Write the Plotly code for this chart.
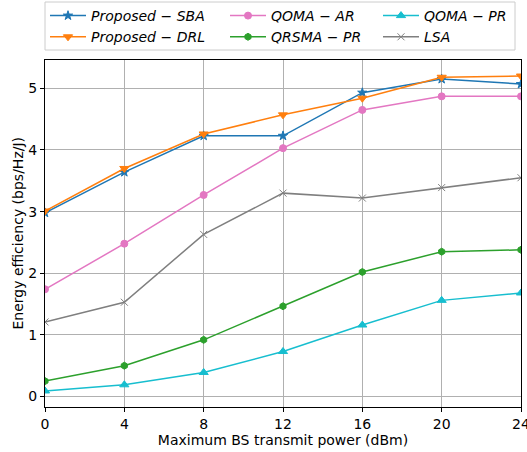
import plotly.graph_objects as go

power = [0, 4, 8, 12, 16, 20, 24]
x_ticks = [0, 4, 8, 12, 16, 20, 24]
y_ticks = [0, 1, 2, 3, 4, 5]

names = ["Proposed − SBA", "Proposed − DRL", "QOMA − AR", "QRSMA − PR", "QOMA − PR", "LSA"]
sba = [2.98, 3.64, 4.23, 4.23, 4.93, 5.15, 5.07]
drl = [3.01, 3.70, 4.26, 4.57, 4.84, 5.18, 5.20]
qoma_ar = [1.74, 2.48, 3.27, 4.03, 4.65, 4.87, 4.87]
qrsma_pr = [0.25, 0.50, 0.92, 1.465, 2.02, 2.35, 2.38]
qoma_pr = [0.09, 0.19, 0.39, 0.73, 1.16, 1.56, 1.68]
lsa = [1.21, 1.53, 2.63, 3.30, 3.22, 3.39, 3.55]

series = [sba, drl, qoma_ar, qrsma_pr, qoma_pr, lsa]
colors = ["#1f77b4", "#ff7f0e", "#e377c2", "#2ca02c", "#17becf", "#7f7f7f"]
symbols = ["star", "triangle-down", "circle", "hexagon", "triangle-up", "x-thin-open"]
sizes = [7, 8, 7, 7, 8, 7]
legend_ids = ["legend", "legend", "legend2", "legend2", "legend3", "legend3"]

W, H = 527, 452
ML, MR, MT, MB = 45, 6, 60, 45
PW, PH = W - ML - MR, H - MT - MB

fig = go.Figure()
for name, ys, c, s, sz, lg in zip(names, series, colors, symbols, sizes, legend_ids):
    if " − " in name:
        a, b = name.split(" − ")
        label = f"<i>{a}</i> − <i>{b}</i>"
    else:
        label = f"<i>{name}</i>"
    fig.add_trace(go.Scatter(
        x=power, y=ys, mode="lines+markers", name=label,
        line=dict(color=c, width=1.5),
        marker=dict(symbol=s, size=sz, color=c, line=dict(color=c, width=1)),
        legend=lg,
    ))

def leg(xpx):
    return dict(
        orientation="v", x=xpx / W, y=1.0, xref="container", yref="container",
        xanchor="left", yanchor="top", borderwidth=0, bgcolor="rgba(0,0,0,0)",
        font=dict(size=14), itemwidth=36, tracegroupgap=0,
    )

def px_x(p):
    return (p - ML) / PW

def px_y(p):
    return (H - MB - p) / PH

fig.update_layout(
    width=W, height=H,
    margin=dict(l=ML, r=MR, t=MT, b=MB, autoexpand=False),
    paper_bgcolor="white", plot_bgcolor="white",
    font=dict(family="DejaVu Sans", size=14, color="black"),
    showlegend=True,
    legend=leg(45), legend2=leg(225), legend3=leg(378),
    shapes=[dict(
        type="rect", xref="paper", yref="paper",
        x0=px_x(45), x1=px_x(515), y0=px_y(50), y1=px_y(2),
        line=dict(color="#cccccc", width=1), fillcolor="rgba(255,255,255,0.8)", layer="below",
    )],
    annotations=[dict(
        text="Energy efficiency (bps/Hz/J)", xref="paper", yref="paper",
        x=px_x(17), y=0.5, textangle=-90, showarrow=False,
        xanchor="center", yanchor="middle", font=dict(size=14),
    )],
    xaxis=dict(
        range=[0, 24], tickvals=x_ticks, showgrid=True, gridcolor="#b0b0b0", gridwidth=1,
        showline=True, linecolor="black", linewidth=1, mirror=True,
        ticks="outside", ticklen=4, tickcolor="black", zeroline=False,
        ticklabeloverflow="allow",
        title=dict(text="Maximum BS transmit power (dBm)", standoff=4, font=dict(size=14)),
    ),
    yaxis=dict(
        range=[-0.17, 5.46], tickvals=y_ticks, showgrid=True, gridcolor="#b0b0b0", gridwidth=1,
        showline=True, linecolor="black", linewidth=1, mirror=True,
        ticks="outside", ticklen=4, tickcolor="black", zeroline=False,
    ),
)

fig.write_html("out.html", config={"displayModeBar": False},
               post_script="document.body.style.margin='0';")
